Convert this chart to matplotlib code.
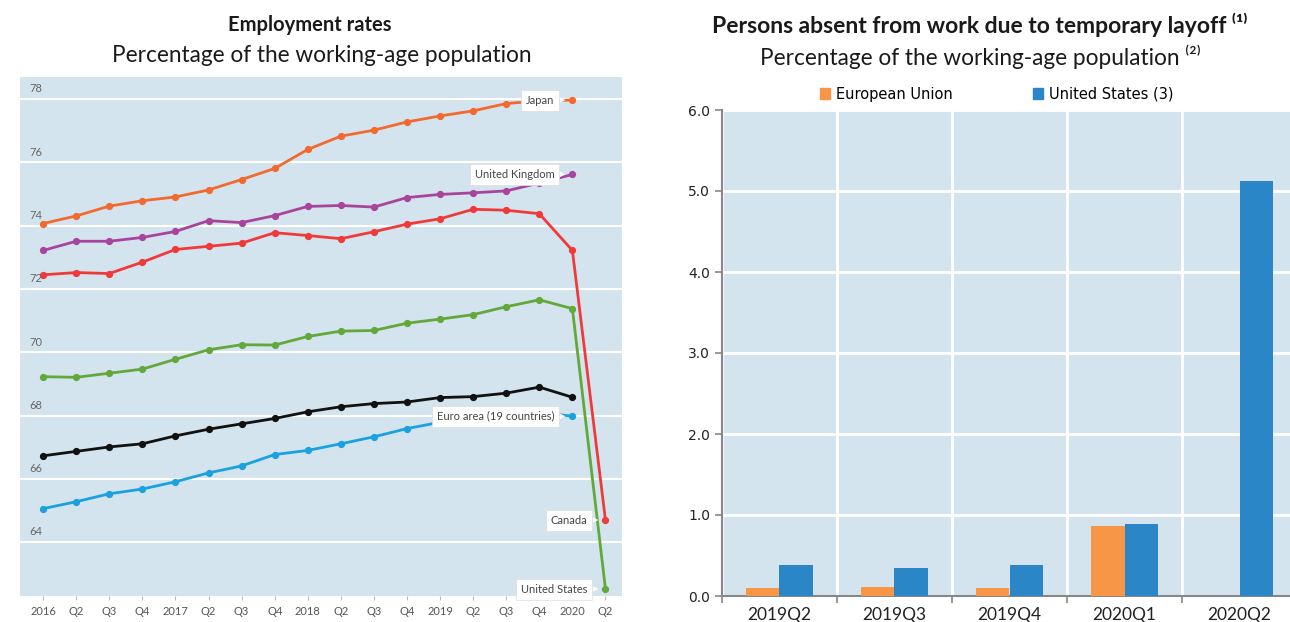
import numpy as np
import matplotlib.pyplot as plt
from matplotlib.patches import Patch

plt.rcParams['font.family'] = ['Lato', 'DejaVu Sans']

# Left chart: employment rates by quarter
quarters = ['2016', 'Q2', 'Q3', 'Q4', '2017', 'Q2', 'Q3', 'Q4', '2018', 'Q2', 'Q3', 'Q4',
            '2019', 'Q2', 'Q3', 'Q4', '2020', 'Q2']
japan = [74.07, 74.31, 74.62, 74.79, 74.91, 75.13, 75.46, 75.81, 76.41, 76.83, 77.02, 77.28,
         77.47, 77.63, 77.86, 77.95, 77.97]
uk = [73.22, 73.51, 73.51, 73.63, 73.82, 74.16, 74.10, 74.32, 74.61, 74.64, 74.59, 74.89,
      74.99, 75.04, 75.10, 75.35, 75.62]
canada = [72.45, 72.52, 72.49, 72.85, 73.25, 73.35, 73.45, 73.78, 73.69, 73.59, 73.81, 74.05,
          74.22, 74.52, 74.49, 74.38, 73.22, 64.70]
united_states = [69.23, 69.21, 69.34, 69.47, 69.78, 70.08, 70.24, 70.23, 70.50, 70.67, 70.69, 70.92,
                 71.05, 71.19, 71.44, 71.66, 71.38, 62.52]
oecd = [66.73, 66.87, 67.01, 67.11, 67.36, 67.57, 67.74, 67.91, 68.12, 68.28, 68.38, 68.43,
        68.57, 68.60, 68.71, 68.90, 68.58]
euro_area = [65.06, 65.28, 65.53, 65.68, 65.91, 66.19, 66.41, 66.77, 66.90, 67.11, 67.33, 67.59,
             67.79, 67.90, 68.00, 68.10, 67.98]
y_ticks_left = [64, 66, 68, 70, 72, 74, 76, 78]

# Right chart: temporary layoff
periods = ['2019Q2', '2019Q3', '2019Q4', '2020Q1', '2020Q2']
eu_layoff = [0.10, 0.115, 0.10, 0.865, np.nan]
us_layoff = [0.385, 0.34, 0.385, 0.885, 5.12]

bg = '#d3e4ee'
fig = plt.figure(figsize=(12.9, 6.22), dpi=100)

# ---------- left chart ----------
ax = fig.add_axes([20 / 1290, 1 - 596 / 622, 602 / 1290, 519 / 622])
ax.set_facecolor(bg)
for s in ax.spines.values():
    s.set_visible(False)

series = [
    (japan, '#f26a2e', 'Japan'),
    (uk, '#a9449c', 'United Kingdom'),
    (canada, '#f03a3a', 'Canada'),
    (united_states, '#62a83a', 'United States'),
    (oecd, '#111111', None),
    (euro_area, '#1aa1de', 'Euro area (19 countries)'),
]
for vals, col, name in series:
    x = np.arange(len(vals))
    ax.plot(x, vals, color=col, lw=2, marker='o', ms=4.2, zorder=3)

ax.set_xlim(-0.7, 17.5)
ax.set_ylim(62.3, 78.7)
ax.set_yticks(y_ticks_left)
ax.yaxis.grid(True, color='white', lw=1.5)
ax.set_axisbelow(True)
ax.tick_params(axis='y', length=0, labelleft=False)
for t in y_ticks_left:
    ax.text(0.015, t + 0.15, str(t), transform=ax.get_yaxis_transform(),
            ha='left', va='bottom', fontsize=8, color='#666666')
ax.set_xticks(np.arange(len(quarters)))
ax.set_xticklabels(quarters, fontsize=8, color='#555555')
ax.tick_params(axis='x', length=3, color='#bbbbbb', pad=4)

for vals, col, name in series:
    if name is None:
        continue
    i = len(vals) - 1
    ax.annotate(name, xy=(i, vals[i]), xytext=(-13, 0), textcoords='offset points',
                ha='right', va='center', fontsize=8, color='#444444', zorder=5,
                bbox=dict(boxstyle='square,pad=0.45', fc='white', ec='#dddddd', lw=0.5),
                arrowprops=dict(arrowstyle='wedge,tail_width=0.5,shrink_factor=0.5',
                                fc='white', ec='none', shrinkA=0, shrinkB=5))

fig.text(310 / 1290, 1 - 25 / 622, 'Employment rates', ha='center', va='center',
         fontsize=14.5, fontweight='bold', color='#1a1a1a')
fig.text(322 / 1290, 1 - 56 / 622, 'Percentage of the working-age population', ha='center',
         va='center', fontsize=16.3, color='#1a1a1a')

# ---------- right chart ----------
ax2 = fig.add_axes([722 / 1290, 1 - 596 / 622, 575 / 1290, 486 / 622])
ax2.set_facecolor(bg)
xc = np.arange(len(periods))
w = 0.29
ax2.bar(xc - w / 2, eu_layoff, width=w, color='#f79646', zorder=3)
ax2.bar(xc + w / 2, us_layoff, width=w, color='#2a86c6', zorder=3)
ax2.set_xlim(-0.5, 4.5)
ax2.set_ylim(0, 6)
ax2.set_yticks(np.arange(0, 6.1, 1.0))
ax2.set_yticklabels([f'{v:.1f}' for v in np.arange(0, 6.1, 1.0)], fontsize=10,
                    family='DejaVu Sans', color='#222222')
ax2.yaxis.grid(True, color='white', lw=2)
ax2.set_xticks(xc)
ax2.set_xticklabels(periods, fontsize=12.5, color='#222222')
ax2.set_xticks(np.arange(-0.5, 4.6, 1.0), minor=True)
ax2.xaxis.grid(True, which='minor', color='white', lw=2)
ax2.tick_params(axis='x', which='major', length=0, pad=8)
ax2.tick_params(axis='x', which='minor', length=5, color='#888888', width=1.2)
ax2.tick_params(axis='y', length=5, color='#888888', width=1.2)
ax2.set_axisbelow(True)
for s in ['top', 'right']:
    ax2.spines[s].set_visible(False)
for s in ['left', 'bottom']:
    ax2.spines[s].set_color('#888888')
    ax2.spines[s].set_linewidth(1.5)

handles = [Patch(color='#f79646', label='European Union'),
           Patch(color='#2a86c6', label='United States (3)')]
fig.legend(handles=handles, loc='center', bbox_to_anchor=(997 / 1290, 1 - 94 / 622), ncol=2,
           frameon=False, prop={'family': 'DejaVu Sans', 'size': 10.5},
           handlelength=0.7, handleheight=0.7, handletextpad=0.4, columnspacing=5.5)

fig.text(980 / 1290, 1 - 25 / 622, 'Persons absent from work due to temporary layoff \u207d\u00b9\u207e',
         ha='center', va='center', fontsize=16.5, fontweight='bold', color='#1a1a1a')
fig.text(980 / 1290, 1 - 57 / 622, 'Percentage of the working-age population \u207d\u00b2\u207e',
         ha='center', va='center', fontsize=16.3, color='#1a1a1a')

fig.savefig('out.png', dpi=100)
